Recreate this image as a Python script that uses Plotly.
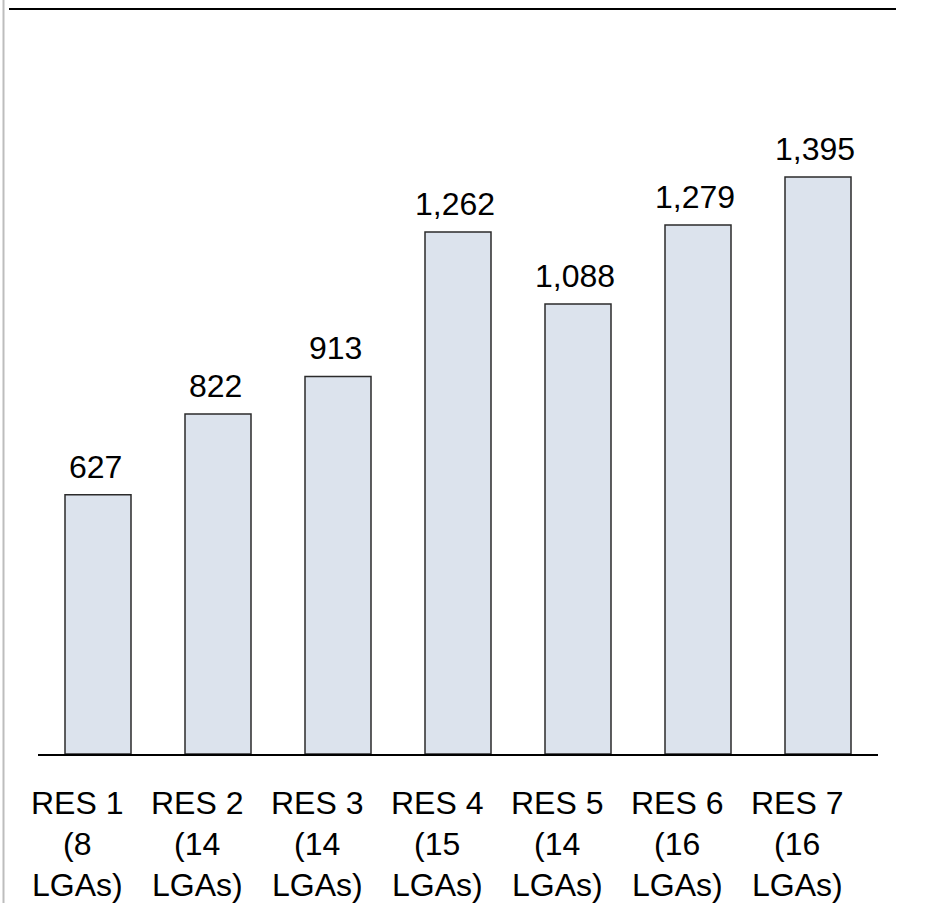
import plotly.graph_objects as go

categories = ["RES 1", "RES 2", "RES 3", "RES 4", "RES 5", "RES 6", "RES 7"]
lga_counts = [8, 14, 14, 15, 14, 16, 16]
values = [627, 822, 913, 1262, 1088, 1279, 1395]

FONT = "Arial, 'Liberation Sans', sans-serif"
W, H = 938, 903
L, R, T, B = 38, 60, 10, 149
PW = W - L - R
PH = H - T - B

fig = go.Figure()
fig.add_trace(go.Bar(
    x=categories, y=values,
    width=0.55,
    marker=dict(color="#DCE3ED", line=dict(color="#2b2b2b", width=1.5)),
    cliponaxis=False,
))

# value labels above bars
for cat, v in zip(categories, values):
    fig.add_annotation(
        x=cat, xref="x", y=v, yref="y",
        text=f"{v:,}", showarrow=False,
        yanchor="bottom", xanchor="center",
        xshift=-3, yshift=8,
        font=dict(family=FONT, size=32, color="#000000"),
    )

# category labels, three lines each
for cat, n in zip(categories, lga_counts):
    lines = [cat, f"({n}", "LGAs)"]
    for i, ln in enumerate(lines):
        fig.add_annotation(
            x=cat, xref="x", y=0, yref="paper",
            text=ln, showarrow=False,
            yanchor="middle", xanchor="center",
            xshift=-21, yshift=-(49 + 41 * i),
            font=dict(family=FONT, size=32, color="#000000"),
        )

# top rule
fig.add_shape(type="line", xref="paper", yref="paper",
              x0=(9 - L) / PW, x1=(896 - L) / PW,
              y0=1 + (T - 9) / PH, y1=1 + (T - 9) / PH,
              line=dict(color="#000000", width=2))
# left grey rule
fig.add_shape(type="line", xref="paper", yref="paper",
              x0=(3.5 - L) / PW, x1=(3.5 - L) / PW,
              y0=1 + T / PH, y1=-B / PH,
              line=dict(color="#bdbdbd", width=2))

fig.update_layout(
    width=W, height=H,
    margin=dict(l=L, r=R, t=T, b=B, pad=0),
    plot_bgcolor="white", paper_bgcolor="white",
    showlegend=False,
    bargap=0.45,
    xaxis=dict(showticklabels=False, ticks="", showgrid=False, zeroline=False,
               showline=True, linecolor="#000000", linewidth=2,
               range=[-0.5, 6.5]),
    yaxis=dict(visible=False, range=[0, 1799], showgrid=False, zeroline=False),
)

fig.write_html("out.html")
